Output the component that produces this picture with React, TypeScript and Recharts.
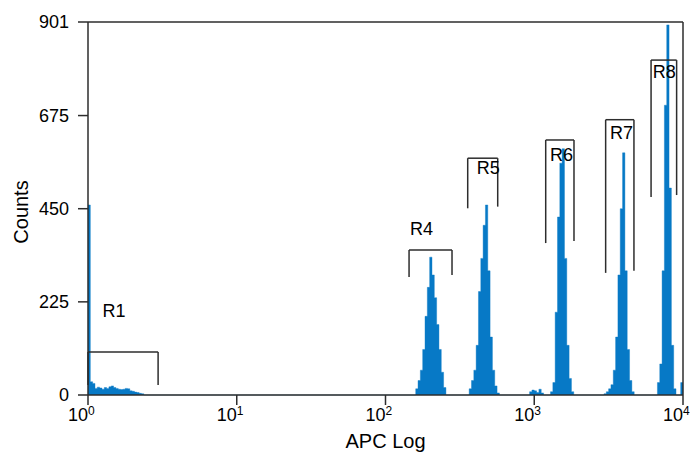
import { ComposedChart, Area, XAxis, YAxis, ReferenceLine, ReferenceDot } from 'recharts'

// 256-channel log histogram, 64 channels per decade
const CHANNELS_PER_DECADE = 64
const DECADES = 4

// counts per channel, each list begins at its start channel
const r1Start = 0
const r1Counts = [459, 32, 28, 16, 19, 17, 14, 18, 16, 20, 22, 18, 16, 14, 13, 14, 16, 15, 10, 9, 7, 6, 4, 3]
const r4Start = 141
const r4Counts = [15, 35, 60, 110, 190, 260, 333, 290, 235, 170, 110, 55, 18]
const r5Start = 164
const r5Counts = [15, 35, 60, 120, 250, 330, 410, 459, 300, 140, 60, 22, 5]
const r6Start = 190
const r6Counts = [8, 12, 10, 6, 14, 5, 0, 0, 0, 8, 30, 200, 430, 560, 595, 330, 120, 40, 8]
const r7Start = 222
const r7Counts = [3, 8, 15, 25, 60, 140, 290, 450, 585, 300, 110, 35, 8]
const r8Start = 245
const r8Counts = [30, 75, 300, 700, 894, 500, 120, 15, 0, 0, 30]

// region gates (APC units) and their marker heights (counts)
const gateNames = ['R1', 'R4', 'R5', 'R6', 'R7', 'R8']
const gateLow = [1, 144, 357, 1194, 3020, 6100]
const gateHigh = [2.96, 280, 568, 1850, 4680, 9060]
const gateTop = [104, 350, 572, 616, 665, 809]
const gateLeftEnd = [24, 285, 451, 367, 295, 478]
const gateRightEnd = [24, 290, 455, 372, 300, 483]
const gateLabelX = [1.25, 146, 410, 1276, 3230, 6255]
const gateLabelY = [203, 403, 549, 582, 633, 782]

const yTicks = [0, 225, 450, 675, 901]
const decadeTicks = [0, 1, 2, 3, 4]

const FONT = 'Arial, "Liberation Sans", sans-serif'
const AXIS = '#2d2d2d'
const FILL = '#0779c6'

function buildHistogram() {
  const counts: number[] = new Array(CHANNELS_PER_DECADE * DECADES).fill(0)
  const pops: [number, number[]][] = [
    [r1Start, r1Counts], [r4Start, r4Counts], [r5Start, r5Counts],
    [r6Start, r6Counts], [r7Start, r7Counts], [r8Start, r8Counts],
  ]
  pops.forEach(([start, values]) => values.forEach((v, i) => { counts[start + i] = v }))
  const rows = counts.map((count, c) => ({ x: c / CHANNELS_PER_DECADE, count }))
  rows.push({ x: DECADES, count: counts[counts.length - 1] })
  return rows
}

const histogram = buildHistogram()

function DecadeTick({ x, y, payload }: any) {
  return (
    <text x={x - 20} y={y + 14} fontFamily={FONT} fontSize={18} fill="#000">
      <tspan>10</tspan>
      <tspan dy={-6} fontSize={12}>{payload.value}</tspan>
    </text>
  )
}

export default function App() {
  const lg = Math.log10
  return (
    <div style={{ position: 'absolute', left: 0, top: 0, background: '#fff' }}>
      <ComposedChart width={691} height={452} data={histogram} margin={{ top: 22, right: 8, bottom: 0, left: 0 }}>
        <XAxis
          type="number"
          dataKey="x"
          domain={[0, DECADES]}
          ticks={decadeTicks}
          allowDataOverflow
          height={57}
          tickSize={10}
          stroke={AXIS}
          strokeWidth={1.5}
          tick={<DecadeTick />}
          label={({ viewBox }: any) => (
            <text x={viewBox.x + viewBox.width / 2} y={viewBox.y + 53} textAnchor="middle" fontFamily={FONT} fontSize={20} fill="#000">
              APC Log
            </text>
          )}
        />
        <YAxis
          type="number"
          domain={[0, 901]}
          ticks={yTicks}
          width={88}
          tickSize={10}
          tickMargin={9}
          stroke={AXIS}
          strokeWidth={1.5}
          tick={{ fill: '#000', fontSize: 18, fontFamily: FONT }}
          label={() => (
            <text x={28} y={212} transform="rotate(-90, 28, 212)" textAnchor="middle" fontFamily={FONT} fontSize={20} fill="#000">
              Counts
            </text>
          )}
        />
        <Area
          type="stepAfter"
          dataKey="count"
          stroke={FILL}
          strokeWidth={0.4}
          fill={FILL}
          fillOpacity={1}
          isAnimationActive={false}
        />
        <ReferenceLine y={901} stroke={AXIS} strokeWidth={1.5} ifOverflow="visible" />
        <ReferenceLine x={DECADES} stroke={AXIS} strokeWidth={1.5} ifOverflow="visible" />
        {gateNames.map((name, i) => {
          const lo = lg(gateLow[i])
          const hi = lg(gateHigh[i])
          return [
            <ReferenceLine key={name + 'l'} segment={[{ x: lo, y: gateLeftEnd[i] }, { x: lo, y: gateTop[i] }]} stroke={AXIS} strokeWidth={1.5} ifOverflow="visible" />,
            <ReferenceLine key={name + 't'} segment={[{ x: lo, y: gateTop[i] }, { x: hi, y: gateTop[i] }]} stroke={AXIS} strokeWidth={1.5} ifOverflow="visible" />,
            <ReferenceLine key={name + 'r'} segment={[{ x: hi, y: gateTop[i] }, { x: hi, y: gateRightEnd[i] }]} stroke={AXIS} strokeWidth={1.5} ifOverflow="visible" />,
            <ReferenceDot
              key={name + 'n'}
              x={lg(gateLabelX[i])}
              y={gateLabelY[i]}
              ifOverflow="visible"
              shape={(p: any) => (
                <text x={p.cx} y={p.cy} dy="0.36em" fontFamily={FONT} fontSize={18} fill="#000">
                  {name}
                </text>
              )}
            />,
          ]
        })}
      </ComposedChart>
    </div>
  )
}
